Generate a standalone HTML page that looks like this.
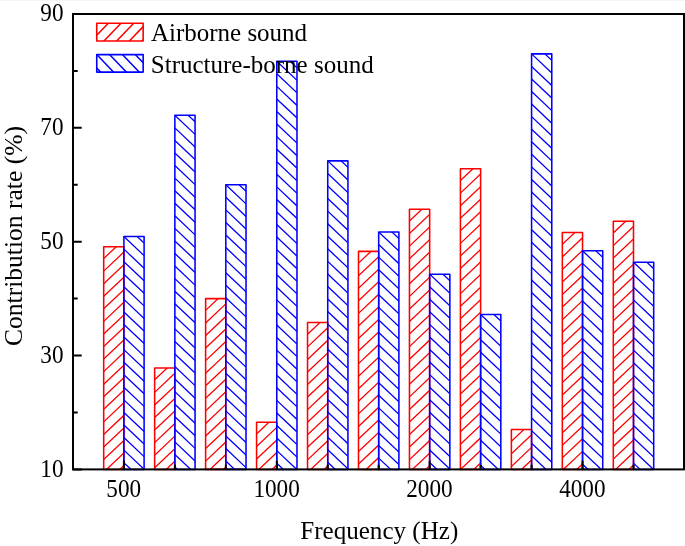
<!DOCTYPE html>
<html><head><meta charset="utf-8"><title>Contribution rate</title>
<style>html,body{margin:0;padding:0;background:#fff}</style></head>
<body>
<svg width="685" height="546" viewBox="0 0 685 546" style="display:block;font-family:'Liberation Serif','Times New Roman',serif" fill="#000">
<rect width="685" height="546" fill="#fff"/>
<rect width="685" height="1" fill="#f4f4f4"/>
<clipPath id="c1"><rect x="103.70" y="246.82" width="20.20" height="222.58"/></clipPath>
<path clip-path="url(#c1)" d="M103.70 246.02L123.90 226.94M103.70 258.58L123.90 239.50M103.70 271.14L123.90 252.06M103.70 283.70L123.90 264.62M103.70 296.26L123.90 277.18M103.70 308.82L123.90 289.74M103.70 321.38L123.90 302.30M103.70 333.94L123.90 314.86M103.70 346.50L123.90 327.42M103.70 359.06L123.90 339.98M103.70 371.62L123.90 352.54M103.70 384.18L123.90 365.10M103.70 396.74L123.90 377.66M103.70 409.30L123.90 390.22M103.70 421.86L123.90 402.78M103.70 434.42L123.90 415.34M103.70 446.98L123.90 427.90M103.70 459.54L123.90 440.46M103.70 472.10L123.90 453.02M103.70 484.66L123.90 465.58M103.70 497.22L123.90 478.14M103.70 509.78L123.90 490.70" stroke="#ff0000" stroke-width="1.3" fill="none"/>
<rect x="103.70" y="246.82" width="20.20" height="222.58" fill="none" stroke="#ff0000" stroke-width="1.55" stroke-linejoin="round"/>
<clipPath id="c2"><rect x="154.66" y="368.07" width="20.20" height="101.33"/></clipPath>
<path clip-path="url(#c2)" d="M154.66 367.27L174.86 348.19M154.66 379.83L174.86 360.75M154.66 392.39L174.86 373.31M154.66 404.95L174.86 385.87M154.66 417.51L174.86 398.43M154.66 430.07L174.86 410.99M154.66 442.63L174.86 423.55M154.66 455.19L174.86 436.11M154.66 467.75L174.86 448.67M154.66 480.31L174.86 461.23M154.66 492.87L174.86 473.79M154.66 505.43L174.86 486.35" stroke="#ff0000" stroke-width="1.3" fill="none"/>
<rect x="154.66" y="368.07" width="20.20" height="101.33" fill="none" stroke="#ff0000" stroke-width="1.55" stroke-linejoin="round"/>
<clipPath id="c3"><rect x="205.62" y="298.62" width="20.20" height="170.77"/></clipPath>
<path clip-path="url(#c3)" d="M205.62 297.82L225.82 278.75M205.62 310.38L225.82 291.31M205.62 322.94L225.82 303.87M205.62 335.50L225.82 316.43M205.62 348.06L225.82 328.99M205.62 360.62L225.82 341.55M205.62 373.18L225.82 354.11M205.62 385.74L225.82 366.67M205.62 398.30L225.82 379.23M205.62 410.86L225.82 391.79M205.62 423.42L225.82 404.35M205.62 435.98L225.82 416.91M205.62 448.54L225.82 429.47M205.62 461.10L225.82 442.03M205.62 473.66L225.82 454.59M205.62 486.22L225.82 467.15M205.62 498.78L225.82 479.71M205.62 511.34L225.82 492.27" stroke="#ff0000" stroke-width="1.3" fill="none"/>
<rect x="205.62" y="298.62" width="20.20" height="170.77" fill="none" stroke="#ff0000" stroke-width="1.55" stroke-linejoin="round"/>
<clipPath id="c4"><rect x="256.58" y="422.15" width="20.20" height="47.25"/></clipPath>
<path clip-path="url(#c4)" d="M256.58 421.35L276.78 402.27M256.58 433.91L276.78 414.83M256.58 446.47L276.78 427.39M256.58 459.03L276.78 439.95M256.58 471.59L276.78 452.51M256.58 484.15L276.78 465.07M256.58 496.71L276.78 477.63M256.58 509.27L276.78 490.19" stroke="#ff0000" stroke-width="1.3" fill="none"/>
<rect x="256.58" y="422.15" width="20.20" height="47.25" fill="none" stroke="#ff0000" stroke-width="1.55" stroke-linejoin="round"/>
<clipPath id="c5"><rect x="307.54" y="322.53" width="20.20" height="146.87"/></clipPath>
<path clip-path="url(#c5)" d="M307.54 321.73L327.74 302.65M307.54 334.29L327.74 315.21M307.54 346.85L327.74 327.77M307.54 359.41L327.74 340.33M307.54 371.97L327.74 352.89M307.54 384.53L327.74 365.45M307.54 397.09L327.74 378.01M307.54 409.65L327.74 390.57M307.54 422.21L327.74 403.13M307.54 434.77L327.74 415.69M307.54 447.33L327.74 428.25M307.54 459.89L327.74 440.81M307.54 472.45L327.74 453.37M307.54 485.01L327.74 465.93M307.54 497.57L327.74 478.49M307.54 510.13L327.74 491.05" stroke="#ff0000" stroke-width="1.3" fill="none"/>
<rect x="307.54" y="322.53" width="20.20" height="146.87" fill="none" stroke="#ff0000" stroke-width="1.55" stroke-linejoin="round"/>
<clipPath id="c6"><rect x="358.50" y="251.38" width="20.20" height="218.02"/></clipPath>
<path clip-path="url(#c6)" d="M358.50 250.57L378.70 231.50M358.50 263.13L378.70 244.06M358.50 275.69L378.70 256.62M358.50 288.25L378.70 269.18M358.50 300.81L378.70 281.74M358.50 313.37L378.70 294.30M358.50 325.93L378.70 306.86M358.50 338.49L378.70 319.42M358.50 351.05L378.70 331.98M358.50 363.61L378.70 344.54M358.50 376.17L378.70 357.10M358.50 388.73L378.70 369.66M358.50 401.29L378.70 382.22M358.50 413.85L378.70 394.78M358.50 426.41L378.70 407.34M358.50 438.97L378.70 419.90M358.50 451.53L378.70 432.46M358.50 464.09L378.70 445.02M358.50 476.65L378.70 457.58M358.50 489.21L378.70 470.14M358.50 501.77L378.70 482.70" stroke="#ff0000" stroke-width="1.3" fill="none"/>
<rect x="358.50" y="251.38" width="20.20" height="218.02" fill="none" stroke="#ff0000" stroke-width="1.55" stroke-linejoin="round"/>
<clipPath id="c7"><rect x="409.46" y="209.25" width="20.20" height="260.15"/></clipPath>
<path clip-path="url(#c7)" d="M409.46 208.45L429.66 189.37M409.46 221.01L429.66 201.93M409.46 233.57L429.66 214.49M409.46 246.13L429.66 227.05M409.46 258.69L429.66 239.61M409.46 271.25L429.66 252.17M409.46 283.81L429.66 264.73M409.46 296.37L429.66 277.29M409.46 308.93L429.66 289.85M409.46 321.49L429.66 302.41M409.46 334.05L429.66 314.97M409.46 346.61L429.66 327.53M409.46 359.17L429.66 340.09M409.46 371.73L429.66 352.65M409.46 384.29L429.66 365.21M409.46 396.85L429.66 377.77M409.46 409.41L429.66 390.33M409.46 421.97L429.66 402.89M409.46 434.53L429.66 415.45M409.46 447.09L429.66 428.01M409.46 459.65L429.66 440.57M409.46 472.21L429.66 453.13M409.46 484.77L429.66 465.69M409.46 497.33L429.66 478.25M409.46 509.89L429.66 490.81" stroke="#ff0000" stroke-width="1.3" fill="none"/>
<rect x="409.46" y="209.25" width="20.20" height="260.15" fill="none" stroke="#ff0000" stroke-width="1.55" stroke-linejoin="round"/>
<clipPath id="c8"><rect x="460.42" y="168.84" width="20.20" height="300.56"/></clipPath>
<path clip-path="url(#c8)" d="M460.42 168.03L480.62 148.96M460.42 180.59L480.62 161.52M460.42 193.15L480.62 174.08M460.42 205.71L480.62 186.64M460.42 218.27L480.62 199.20M460.42 230.83L480.62 211.76M460.42 243.39L480.62 224.32M460.42 255.95L480.62 236.88M460.42 268.51L480.62 249.44M460.42 281.07L480.62 262.00M460.42 293.63L480.62 274.56M460.42 306.19L480.62 287.12M460.42 318.75L480.62 299.68M460.42 331.31L480.62 312.24M460.42 343.87L480.62 324.80M460.42 356.43L480.62 337.36M460.42 368.99L480.62 349.92M460.42 381.55L480.62 362.48M460.42 394.11L480.62 375.04M460.42 406.67L480.62 387.60M460.42 419.23L480.62 400.16M460.42 431.79L480.62 412.72M460.42 444.35L480.62 425.28M460.42 456.91L480.62 437.84M460.42 469.47L480.62 450.40M460.42 482.03L480.62 462.96M460.42 494.59L480.62 475.52M460.42 507.15L480.62 488.08" stroke="#ff0000" stroke-width="1.3" fill="none"/>
<rect x="460.42" y="168.84" width="20.20" height="300.56" fill="none" stroke="#ff0000" stroke-width="1.55" stroke-linejoin="round"/>
<clipPath id="c9"><rect x="511.38" y="429.55" width="20.20" height="39.85"/></clipPath>
<path clip-path="url(#c9)" d="M511.38 428.75L531.58 409.67M511.38 441.31L531.58 422.23M511.38 453.87L531.58 434.79M511.38 466.43L531.58 447.35M511.38 478.99L531.58 459.91M511.38 491.55L531.58 472.47M511.38 504.11L531.58 485.03" stroke="#ff0000" stroke-width="1.3" fill="none"/>
<rect x="511.38" y="429.55" width="20.20" height="39.85" fill="none" stroke="#ff0000" stroke-width="1.55" stroke-linejoin="round"/>
<clipPath id="c10"><rect x="562.34" y="232.59" width="20.20" height="236.81"/></clipPath>
<path clip-path="url(#c10)" d="M562.34 231.79L582.54 212.71M562.34 244.35L582.54 225.27M562.34 256.91L582.54 237.83M562.34 269.47L582.54 250.39M562.34 282.03L582.54 262.95M562.34 294.59L582.54 275.51M562.34 307.15L582.54 288.07M562.34 319.71L582.54 300.63M562.34 332.27L582.54 313.19M562.34 344.83L582.54 325.75M562.34 357.39L582.54 338.31M562.34 369.95L582.54 350.87M562.34 382.51L582.54 363.43M562.34 395.07L582.54 375.99M562.34 407.63L582.54 388.55M562.34 420.19L582.54 401.11M562.34 432.75L582.54 413.67M562.34 445.31L582.54 426.23M562.34 457.87L582.54 438.79M562.34 470.43L582.54 451.35M562.34 482.99L582.54 463.91M562.34 495.55L582.54 476.47M562.34 508.11L582.54 489.03" stroke="#ff0000" stroke-width="1.3" fill="none"/>
<rect x="562.34" y="232.59" width="20.20" height="236.81" fill="none" stroke="#ff0000" stroke-width="1.55" stroke-linejoin="round"/>
<clipPath id="c11"><rect x="613.30" y="221.21" width="20.20" height="248.19"/></clipPath>
<path clip-path="url(#c11)" d="M613.30 220.40L633.50 201.33M613.30 232.96L633.50 213.89M613.30 245.52L633.50 226.45M613.30 258.08L633.50 239.01M613.30 270.64L633.50 251.57M613.30 283.20L633.50 264.13M613.30 295.76L633.50 276.69M613.30 308.32L633.50 289.25M613.30 320.88L633.50 301.81M613.30 333.44L633.50 314.37M613.30 346.00L633.50 326.93M613.30 358.56L633.50 339.49M613.30 371.12L633.50 352.05M613.30 383.68L633.50 364.61M613.30 396.24L633.50 377.17M613.30 408.80L633.50 389.73M613.30 421.36L633.50 402.29M613.30 433.92L633.50 414.85M613.30 446.48L633.50 427.41M613.30 459.04L633.50 439.97M613.30 471.60L633.50 452.53M613.30 484.16L633.50 465.09M613.30 496.72L633.50 477.65M613.30 509.28L633.50 490.21" stroke="#ff0000" stroke-width="1.3" fill="none"/>
<rect x="613.30" y="221.21" width="20.20" height="248.19" fill="none" stroke="#ff0000" stroke-width="1.55" stroke-linejoin="round"/>
<clipPath id="c12"><rect x="123.90" y="236.58" width="20.20" height="232.82"/></clipPath>
<path clip-path="url(#c12)" d="M123.90 198.90L144.10 217.97M123.90 211.46L144.10 230.53M123.90 224.02L144.10 243.09M123.90 236.58L144.10 255.65M123.90 249.14L144.10 268.21M123.90 261.70L144.10 280.77M123.90 274.26L144.10 293.33M123.90 286.82L144.10 305.89M123.90 299.38L144.10 318.45M123.90 311.94L144.10 331.01M123.90 324.50L144.10 343.57M123.90 337.06L144.10 356.13M123.90 349.62L144.10 368.69M123.90 362.18L144.10 381.25M123.90 374.74L144.10 393.81M123.90 387.30L144.10 406.37M123.90 399.86L144.10 418.93M123.90 412.42L144.10 431.49M123.90 424.98L144.10 444.05M123.90 437.54L144.10 456.61M123.90 450.10L144.10 469.17M123.90 462.66L144.10 481.73M123.90 475.22L144.10 494.29M123.90 487.78L144.10 506.85" stroke="#0000ff" stroke-width="1.3" fill="none"/>
<rect x="123.90" y="236.58" width="20.20" height="232.82" fill="none" stroke="#0000ff" stroke-width="1.55" stroke-linejoin="round"/>
<clipPath id="c13"><rect x="174.86" y="115.33" width="20.20" height="354.07"/></clipPath>
<path clip-path="url(#c13)" d="M174.86 77.65L195.06 96.72M174.86 90.21L195.06 109.28M174.86 102.77L195.06 121.84M174.86 115.33L195.06 134.40M174.86 127.89L195.06 146.96M174.86 140.45L195.06 159.52M174.86 153.01L195.06 172.08M174.86 165.57L195.06 184.64M174.86 178.13L195.06 197.20M174.86 190.69L195.06 209.76M174.86 203.25L195.06 222.32M174.86 215.81L195.06 234.88M174.86 228.37L195.06 247.44M174.86 240.93L195.06 260.00M174.86 253.49L195.06 272.56M174.86 266.05L195.06 285.12M174.86 278.61L195.06 297.68M174.86 291.17L195.06 310.24M174.86 303.73L195.06 322.80M174.86 316.29L195.06 335.36M174.86 328.85L195.06 347.92M174.86 341.41L195.06 360.48M174.86 353.97L195.06 373.04M174.86 366.53L195.06 385.60M174.86 379.09L195.06 398.16M174.86 391.65L195.06 410.72M174.86 404.21L195.06 423.28M174.86 416.77L195.06 435.84M174.86 429.33L195.06 448.40M174.86 441.89L195.06 460.96M174.86 454.45L195.06 473.52M174.86 467.01L195.06 486.08M174.86 479.57L195.06 498.64M174.86 492.13L195.06 511.20" stroke="#0000ff" stroke-width="1.3" fill="none"/>
<rect x="174.86" y="115.33" width="20.20" height="354.07" fill="none" stroke="#0000ff" stroke-width="1.55" stroke-linejoin="round"/>
<clipPath id="c14"><rect x="225.82" y="184.77" width="20.20" height="284.62"/></clipPath>
<path clip-path="url(#c14)" d="M225.82 147.09L246.02 166.17M225.82 159.65L246.02 178.73M225.82 172.21L246.02 191.29M225.82 184.77L246.02 203.85M225.82 197.33L246.02 216.41M225.82 209.89L246.02 228.97M225.82 222.45L246.02 241.53M225.82 235.01L246.02 254.09M225.82 247.57L246.02 266.65M225.82 260.13L246.02 279.21M225.82 272.69L246.02 291.77M225.82 285.25L246.02 304.33M225.82 297.81L246.02 316.89M225.82 310.38L246.02 329.45M225.82 322.93L246.02 342.01M225.82 335.50L246.02 354.57M225.82 348.05L246.02 367.13M225.82 360.62L246.02 379.69M225.82 373.17L246.02 392.25M225.82 385.74L246.02 404.81M225.82 398.29L246.02 417.37M225.82 410.86L246.02 429.93M225.82 423.41L246.02 442.49M225.82 435.98L246.02 455.05M225.82 448.53L246.02 467.61M225.82 461.09L246.02 480.17M225.82 473.65L246.02 492.73M225.82 486.21L246.02 505.29" stroke="#0000ff" stroke-width="1.3" fill="none"/>
<rect x="225.82" y="184.77" width="20.20" height="284.62" fill="none" stroke="#0000ff" stroke-width="1.55" stroke-linejoin="round"/>
<clipPath id="c15"><rect x="276.78" y="61.25" width="20.20" height="408.15"/></clipPath>
<path clip-path="url(#c15)" d="M276.78 23.57L296.98 42.64M276.78 36.13L296.98 55.20M276.78 48.69L296.98 67.76M276.78 61.25L296.98 80.32M276.78 73.81L296.98 92.88M276.78 86.37L296.98 105.44M276.78 98.93L296.98 118.00M276.78 111.49L296.98 130.56M276.78 124.05L296.98 143.12M276.78 136.61L296.98 155.68M276.78 149.17L296.98 168.24M276.78 161.73L296.98 180.80M276.78 174.29L296.98 193.36M276.78 186.85L296.98 205.92M276.78 199.41L296.98 218.48M276.78 211.97L296.98 231.04M276.78 224.53L296.98 243.60M276.78 237.09L296.98 256.16M276.78 249.65L296.98 268.72M276.78 262.21L296.98 281.28M276.78 274.77L296.98 293.84M276.78 287.33L296.98 306.40M276.78 299.89L296.98 318.96M276.78 312.45L296.98 331.52M276.78 325.01L296.98 344.08M276.78 337.57L296.98 356.64M276.78 350.13L296.98 369.20M276.78 362.69L296.98 381.76M276.78 375.25L296.98 394.32M276.78 387.81L296.98 406.88M276.78 400.37L296.98 419.44M276.78 412.93L296.98 432.00M276.78 425.49L296.98 444.56M276.78 438.05L296.98 457.12M276.78 450.61L296.98 469.68M276.78 463.17L296.98 482.24M276.78 475.73L296.98 494.80M276.78 488.29L296.98 507.36" stroke="#0000ff" stroke-width="1.3" fill="none"/>
<rect x="276.78" y="61.25" width="20.20" height="408.15" fill="none" stroke="#0000ff" stroke-width="1.55" stroke-linejoin="round"/>
<clipPath id="c16"><rect x="327.74" y="160.87" width="20.20" height="308.53"/></clipPath>
<path clip-path="url(#c16)" d="M327.74 123.19L347.94 142.26M327.74 135.75L347.94 154.82M327.74 148.31L347.94 167.38M327.74 160.87L347.94 179.94M327.74 173.43L347.94 192.50M327.74 185.99L347.94 205.06M327.74 198.55L347.94 217.62M327.74 211.11L347.94 230.18M327.74 223.67L347.94 242.74M327.74 236.23L347.94 255.30M327.74 248.79L347.94 267.86M327.74 261.35L347.94 280.42M327.74 273.91L347.94 292.98M327.74 286.47L347.94 305.54M327.74 299.03L347.94 318.10M327.74 311.59L347.94 330.66M327.74 324.15L347.94 343.22M327.74 336.71L347.94 355.78M327.74 349.27L347.94 368.34M327.74 361.83L347.94 380.90M327.74 374.39L347.94 393.46M327.74 386.95L347.94 406.02M327.74 399.51L347.94 418.58M327.74 412.07L347.94 431.14M327.74 424.63L347.94 443.70M327.74 437.19L347.94 456.26M327.74 449.75L347.94 468.82M327.74 462.31L347.94 481.38M327.74 474.87L347.94 493.94M327.74 487.43L347.94 506.50" stroke="#0000ff" stroke-width="1.3" fill="none"/>
<rect x="327.74" y="160.87" width="20.20" height="308.53" fill="none" stroke="#0000ff" stroke-width="1.55" stroke-linejoin="round"/>
<clipPath id="c17"><rect x="378.70" y="232.02" width="20.20" height="237.38"/></clipPath>
<path clip-path="url(#c17)" d="M378.70 194.34L398.90 213.42M378.70 206.90L398.90 225.98M378.70 219.46L398.90 238.54M378.70 232.02L398.90 251.10M378.70 244.58L398.90 263.66M378.70 257.14L398.90 276.22M378.70 269.70L398.90 288.78M378.70 282.26L398.90 301.34M378.70 294.82L398.90 313.90M378.70 307.38L398.90 326.46M378.70 319.94L398.90 339.02M378.70 332.50L398.90 351.58M378.70 345.06L398.90 364.14M378.70 357.62L398.90 376.70M378.70 370.18L398.90 389.26M378.70 382.74L398.90 401.82M378.70 395.30L398.90 414.38M378.70 407.86L398.90 426.94M378.70 420.42L398.90 439.50M378.70 432.98L398.90 452.06M378.70 445.54L398.90 464.62M378.70 458.10L398.90 477.18M378.70 470.66L398.90 489.74M378.70 483.22L398.90 502.30" stroke="#0000ff" stroke-width="1.3" fill="none"/>
<rect x="378.70" y="232.02" width="20.20" height="237.38" fill="none" stroke="#0000ff" stroke-width="1.55" stroke-linejoin="round"/>
<clipPath id="c18"><rect x="429.66" y="274.15" width="20.20" height="195.25"/></clipPath>
<path clip-path="url(#c18)" d="M429.66 236.47L449.86 255.54M429.66 249.03L449.86 268.10M429.66 261.59L449.86 280.66M429.66 274.15L449.86 293.22M429.66 286.71L449.86 305.78M429.66 299.27L449.86 318.34M429.66 311.83L449.86 330.90M429.66 324.39L449.86 343.46M429.66 336.95L449.86 356.02M429.66 349.51L449.86 368.58M429.66 362.07L449.86 381.14M429.66 374.63L449.86 393.70M429.66 387.19L449.86 406.26M429.66 399.75L449.86 418.82M429.66 412.31L449.86 431.38M429.66 424.87L449.86 443.94M429.66 437.43L449.86 456.50M429.66 449.99L449.86 469.06M429.66 462.55L449.86 481.62M429.66 475.11L449.86 494.18M429.66 487.67L449.86 506.74" stroke="#0000ff" stroke-width="1.3" fill="none"/>
<rect x="429.66" y="274.15" width="20.20" height="195.25" fill="none" stroke="#0000ff" stroke-width="1.55" stroke-linejoin="round"/>
<clipPath id="c19"><rect x="480.62" y="314.56" width="20.20" height="154.84"/></clipPath>
<path clip-path="url(#c19)" d="M480.62 276.88L500.82 295.96M480.62 289.44L500.82 308.52M480.62 302.00L500.82 321.08M480.62 314.56L500.82 333.64M480.62 327.12L500.82 346.20M480.62 339.68L500.82 358.76M480.62 352.24L500.82 371.32M480.62 364.80L500.82 383.88M480.62 377.36L500.82 396.44M480.62 389.92L500.82 409.00M480.62 402.48L500.82 421.56M480.62 415.04L500.82 434.12M480.62 427.60L500.82 446.68M480.62 440.16L500.82 459.24M480.62 452.72L500.82 471.80M480.62 465.28L500.82 484.36M480.62 477.84L500.82 496.92M480.62 490.40L500.82 509.48" stroke="#0000ff" stroke-width="1.3" fill="none"/>
<rect x="480.62" y="314.56" width="20.20" height="154.84" fill="none" stroke="#0000ff" stroke-width="1.55" stroke-linejoin="round"/>
<clipPath id="c20"><rect x="531.58" y="53.85" width="20.20" height="415.55"/></clipPath>
<path clip-path="url(#c20)" d="M531.58 16.17L551.78 35.24M531.58 28.73L551.78 47.80M531.58 41.29L551.78 60.36M531.58 53.85L551.78 72.92M531.58 66.41L551.78 85.48M531.58 78.97L551.78 98.04M531.58 91.53L551.78 110.60M531.58 104.09L551.78 123.16M531.58 116.65L551.78 135.72M531.58 129.21L551.78 148.28M531.58 141.77L551.78 160.84M531.58 154.33L551.78 173.40M531.58 166.89L551.78 185.96M531.58 179.45L551.78 198.52M531.58 192.01L551.78 211.08M531.58 204.57L551.78 223.64M531.58 217.13L551.78 236.20M531.58 229.69L551.78 248.76M531.58 242.25L551.78 261.32M531.58 254.81L551.78 273.88M531.58 267.37L551.78 286.44M531.58 279.93L551.78 299.00M531.58 292.49L551.78 311.56M531.58 305.05L551.78 324.12M531.58 317.61L551.78 336.68M531.58 330.17L551.78 349.24M531.58 342.73L551.78 361.80M531.58 355.29L551.78 374.36M531.58 367.85L551.78 386.92M531.58 380.41L551.78 399.48M531.58 392.97L551.78 412.04M531.58 405.53L551.78 424.60M531.58 418.09L551.78 437.16M531.58 430.65L551.78 449.72M531.58 443.21L551.78 462.28M531.58 455.77L551.78 474.84M531.58 468.33L551.78 487.40M531.58 480.89L551.78 499.96M531.58 493.45L551.78 512.52" stroke="#0000ff" stroke-width="1.3" fill="none"/>
<rect x="531.58" y="53.85" width="20.20" height="415.55" fill="none" stroke="#0000ff" stroke-width="1.55" stroke-linejoin="round"/>
<clipPath id="c21"><rect x="582.54" y="250.81" width="20.20" height="218.59"/></clipPath>
<path clip-path="url(#c21)" d="M582.54 213.13L602.74 232.20M582.54 225.69L602.74 244.76M582.54 238.25L602.74 257.32M582.54 250.81L602.74 269.88M582.54 263.37L602.74 282.44M582.54 275.93L602.74 295.00M582.54 288.49L602.74 307.56M582.54 301.05L602.74 320.12M582.54 313.61L602.74 332.68M582.54 326.17L602.74 345.24M582.54 338.73L602.74 357.80M582.54 351.29L602.74 370.36M582.54 363.85L602.74 382.92M582.54 376.41L602.74 395.48M582.54 388.97L602.74 408.04M582.54 401.53L602.74 420.60M582.54 414.09L602.74 433.16M582.54 426.65L602.74 445.72M582.54 439.21L602.74 458.28M582.54 451.77L602.74 470.84M582.54 464.33L602.74 483.40M582.54 476.89L602.74 495.96M582.54 489.45L602.74 508.52" stroke="#0000ff" stroke-width="1.3" fill="none"/>
<rect x="582.54" y="250.81" width="20.20" height="218.59" fill="none" stroke="#0000ff" stroke-width="1.55" stroke-linejoin="round"/>
<clipPath id="c22"><rect x="633.50" y="262.19" width="20.20" height="207.21"/></clipPath>
<path clip-path="url(#c22)" d="M633.50 224.51L653.70 243.59M633.50 237.07L653.70 256.15M633.50 249.63L653.70 268.71M633.50 262.19L653.70 281.27M633.50 274.75L653.70 293.83M633.50 287.31L653.70 306.39M633.50 299.87L653.70 318.95M633.50 312.43L653.70 331.51M633.50 324.99L653.70 344.07M633.50 337.55L653.70 356.63M633.50 350.11L653.70 369.19M633.50 362.67L653.70 381.75M633.50 375.23L653.70 394.31M633.50 387.79L653.70 406.87M633.50 400.35L653.70 419.43M633.50 412.91L653.70 431.99M633.50 425.47L653.70 444.55M633.50 438.03L653.70 457.11M633.50 450.59L653.70 469.67M633.50 463.15L653.70 482.23M633.50 475.71L653.70 494.79M633.50 488.27L653.70 507.35" stroke="#0000ff" stroke-width="1.3" fill="none"/>
<rect x="633.50" y="262.19" width="20.20" height="207.21" fill="none" stroke="#0000ff" stroke-width="1.55" stroke-linejoin="round"/>
<rect x="73.0" y="14.0" width="611.0" height="455.4" fill="none" stroke="#000" stroke-width="2.0"/>
<path d="M73.0 469.40h8.7M73.0 412.47h4.7M73.0 355.55h8.7M73.0 298.62h4.7M73.0 241.70h8.7M73.0 184.77h4.7M73.0 127.85h8.7M73.0 70.93h4.7M73.0 14.00h8.7M123.90 469.4v-8.7M174.86 469.4v-4.7M225.82 469.4v-4.7M276.78 469.4v-8.7M327.74 469.4v-4.7M378.70 469.4v-4.7M429.66 469.4v-8.7M480.62 469.4v-4.7M531.58 469.4v-4.7M582.54 469.4v-8.7M633.50 469.4v-4.7" stroke="#000" stroke-width="2.0" fill="none"/>
<g font-size="23.2px">
<text transform="translate(63.5 476.70) scale(1 1.1)" text-anchor="end">10</text>
<text transform="translate(63.5 362.85) scale(1 1.1)" text-anchor="end">30</text>
<text transform="translate(63.5 249.00) scale(1 1.1)" text-anchor="end">50</text>
<text transform="translate(63.5 135.15) scale(1 1.1)" text-anchor="end">70</text>
<text transform="translate(63.5 21.30) scale(1 1.1)" text-anchor="end">90</text>
<text transform="translate(123.70 496.5) scale(1 1.1)" text-anchor="middle">500</text>
<text transform="translate(276.58 496.5) scale(1 1.1)" text-anchor="middle">1000</text>
<text transform="translate(429.46 496.5) scale(1 1.1)" text-anchor="middle">2000</text>
<text transform="translate(582.34 496.5) scale(1 1.1)" text-anchor="middle">4000</text>
</g>
<text transform="translate(300.2 538.6) scale(1 0.968)" font-size="25.1px">Frequency (Hz)</text>
<text transform="translate(22 346) rotate(-90)" font-size="25.55px">Contribution rate (%)</text>
<clipPath id="c23"><rect x="96.75" y="23.30" width="46.40" height="17.70"/></clipPath>
<path clip-path="url(#c23)" d="M96.75 22.05L143.15 -26.17M96.75 35.25L143.15 -12.97M96.75 48.45L143.15 0.23M96.75 61.65L143.15 13.43M96.75 74.85L143.15 26.63M96.75 88.05L143.15 39.83M96.75 101.25L143.15 53.03" stroke="#ff0000" stroke-width="1.5" fill="none"/>
<rect x="96.75" y="23.30" width="46.40" height="17.70" fill="none" stroke="#ff0000" stroke-width="1.6" stroke-linejoin="round"/>
<clipPath id="c24"><rect x="96.75" y="54.60" width="46.40" height="17.50"/></clipPath>
<path clip-path="url(#c24)" d="M96.75 -12.40L143.15 35.95M96.75 1.00L143.15 49.35M96.75 14.40L143.15 62.75M96.75 27.80L143.15 76.15M96.75 41.20L143.15 89.55M96.75 54.60L143.15 102.95M96.75 68.00L143.15 116.35M96.75 81.40L143.15 129.75M96.75 94.80L143.15 143.15" stroke="#0000ff" stroke-width="1.5" fill="none"/>
<rect x="96.75" y="54.60" width="46.40" height="17.50" fill="none" stroke="#0000ff" stroke-width="1.6" stroke-linejoin="round"/>
<text x="150.9" y="41.3" font-size="25.0px">Airborne sound</text>
<text x="150.8" y="72.8" font-size="25.0px">Structure-borne sound</text>
</svg>
</body></html>
